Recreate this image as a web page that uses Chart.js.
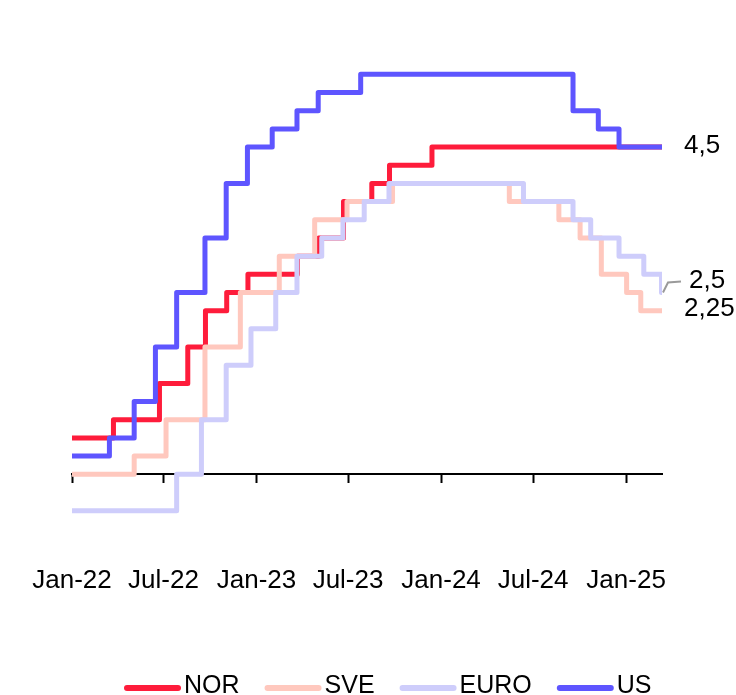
<!DOCTYPE html>
<html>
<head>
<meta charset="utf-8">
<script src="https://cdn.jsdelivr.net/npm/chart.js@4.4.1/dist/chart.umd.min.js"></script>
<style>
  html, body { margin: 0; padding: 0; background: #fff; }
  #wrap { width: 736px; height: 695px; position: relative; }
</style>
</head>
<body>
<div id="wrap"><canvas id="chart"></canvas></div>
<script>
// Policy rates, one point per change (date the new rate applies, new rate)
const norDates = ['2022-01-01', '2022-03-24', '2022-06-23', '2022-08-18', '2022-09-22', '2022-11-03', '2022-12-15',
    '2023-03-23', '2023-05-04', '2023-06-22', '2023-08-17', '2023-09-21', '2023-12-14', '2025-03-13'];
const norRates = [0.5, 0.75, 1.25, 1.75, 2.25, 2.5, 2.75, 3.0, 3.25, 3.75, 4.0, 4.25, 4.5, 4.5];

const sveDates = ['2022-01-01', '2022-05-04', '2022-07-06', '2022-09-21', '2022-11-30', '2023-02-15', '2023-04-26',
    '2023-06-29', '2023-09-27', '2024-05-15', '2024-08-21', '2024-10-02', '2024-11-13', '2025-01-02', '2025-01-30', '2025-03-13'];
const sveRates = [0, 0.25, 0.75, 1.75, 2.5, 3.0, 3.5, 3.75, 4.0, 3.75, 3.5, 3.25, 2.75, 2.5, 2.25, 2.25];

const euroDates = ['2022-01-01', '2022-07-27', '2022-09-14', '2022-11-02', '2022-12-21', '2023-02-08', '2023-03-22',
    '2023-05-10', '2023-06-21', '2023-08-02', '2023-09-20', '2024-06-12', '2024-09-18', '2024-10-23', '2024-12-18',
    '2025-02-05', '2025-03-12', '2025-03-13'];
const euroRates = [-0.5, 0, 0.75, 1.5, 2.0, 2.5, 3.0, 3.25, 3.5, 3.75, 4.0, 3.75, 3.5, 3.25, 3.0, 2.75, 2.5, 2.5];

const usDates = ['2022-01-01', '2022-03-16', '2022-05-04', '2022-06-15', '2022-07-27', '2022-09-21', '2022-11-02',
    '2022-12-14', '2023-02-01', '2023-03-22', '2023-05-03', '2023-07-26', '2024-09-18', '2024-11-07', '2024-12-18', '2025-03-13'];
const usRates = [0.25, 0.5, 1.0, 1.75, 2.5, 3.25, 4.0, 4.5, 4.75, 5.0, 5.25, 5.5, 5.0, 4.75, 4.5, 4.5];

const tickDates = ['2022-01-01', '2022-07-01', '2023-01-01', '2023-07-01', '2024-01-01', '2024-07-01', '2025-01-01'];
const tickLabels = ['Jan-22', 'Jul-22', 'Jan-23', 'Jul-23', 'Jan-24', 'Jul-24', 'Jan-25'];

const seriesNames = ['NOR', 'SVE', 'EURO', 'US'];
const seriesColors = ['#fe1c3b', '#ffc8be', '#cecdfb', '#5e55ff'];

// labels at the right end of the lines
const endLabels = [
    { text: '4,5', value: 4.5, dx: 22, dy: -1 },
    { text: '2,5', value: 2.5, dx: 27, dy: -12, leader: true },
    { text: '2,25', value: 2.25, dx: 22, dy: -2 }
];

const toPoints = (dates, rates) => dates.map((d, i) => ({ x: Date.parse(d), y: rates[i] }));
const allSeries = [
    toPoints(norDates, norRates),
    toPoints(sveDates, sveRates),
    toPoints(euroDates, euroRates),
    toPoints(usDates, usRates)
];

Chart.defaults.font.family = '"Liberation Sans", Arial, sans-serif';
Chart.defaults.color = '#000';

const endLabelPlugin = {
    id: 'endLabels',
    afterDatasetsDraw(chart) {
        const {ctx, scales: {x, y}} = chart;
        const endX = x.getPixelForValue(x.max);
        ctx.save();
        ctx.font = '26px "Liberation Sans", Arial, sans-serif';
        ctx.fillStyle = '#000';
        ctx.textAlign = 'left';
        ctx.textBaseline = 'middle';
        endLabels.forEach(l => {
            const py = y.getPixelForValue(l.value);
            if (l.leader) {
                ctx.strokeStyle = '#9a9a9a';
                ctx.lineWidth = 2;
                ctx.beginPath();
                ctx.moveTo(endX + 1, py);
                ctx.lineTo(endX + 6, py + l.dy + 2);
                ctx.lineTo(endX + l.dx - 8, py + l.dy + 1);
                ctx.stroke();
            }
            ctx.fillText(l.text, endX + l.dx, py + l.dy);
        });
        ctx.restore();
    }
};

const lineLegendPlugin = {
    id: 'lineLegend',
    afterDraw(chart) {
        const ctx = chart.ctx;
        let left = 124;
        const lineY = 688;
        const baseY = 693;
        ctx.save();
        ctx.font = '25px "Liberation Sans", Arial, sans-serif';
        ctx.textBaseline = 'alphabetic';
        ctx.textAlign = 'left';
        chart.data.datasets.forEach(ds => {
            ctx.strokeStyle = ds.borderColor;
            ctx.lineWidth = 6;
            ctx.lineCap = 'round';
            ctx.beginPath();
            ctx.moveTo(left + 3, lineY);
            ctx.lineTo(left + 54, lineY);
            ctx.stroke();
            ctx.fillStyle = '#000';
            ctx.fillText(ds.label, left + 60, baseY);
            left += 60 + ctx.measureText(ds.label).width + 25;
        });
        ctx.restore();
    }
};

new Chart(document.getElementById('chart'), {
    type: 'line',
    data: {
        datasets: allSeries.map((pts, i) => ({
            label: seriesNames[i],
            data: pts,
            borderColor: seriesColors[i],
            backgroundColor: seriesColors[i],
            borderWidth: 5,
            borderJoinStyle: 'round',
            borderCapStyle: 'round',
            pointRadius: 0,
            stepped: true,
            order: seriesNames.length - i
        }))
    },
    options: {
        responsive: true,
        maintainAspectRatio: false,
        animation: false,
        layout: {
            padding: { left: 72, right: 74, top: 38, bottom: 148 }
        },
        scales: {
            x: {
                type: 'linear',
                min: Date.parse('2022-01-01'),
                max: Date.parse('2025-03-13'),
                position: { y: 0 },
                afterBuildTicks: scale => {
                    scale.ticks = tickDates.map(d => ({ value: Date.parse(d) }));
                },
                afterFit: scale => {
                    // tick labels may hang outside, keep the plot width fixed
                    scale.paddingLeft = 0;
                    scale.paddingRight = 0;
                },
                ticks: {
                    autoSkip: false,
                    maxRotation: 0,
                    padding: 83,
                    font: { size: 26 },
                    color: '#000',
                    callback: (value, index) => tickLabels[index]
                },
                grid: {
                    drawOnChartArea: false,
                    drawTicks: true,
                    tickLength: 8,
                    tickWidth: 2,
                    color: '#000'
                },
                border: { display: true, color: '#000', width: 2 }
            },
            y: {
                display: false,
                min: -1,
                max: 6
            }
        },
        plugins: {
            legend: { display: false },
            tooltip: { enabled: false }
        }
    },
    plugins: [endLabelPlugin, lineLegendPlugin]
});
</script>
</body>
</html>
